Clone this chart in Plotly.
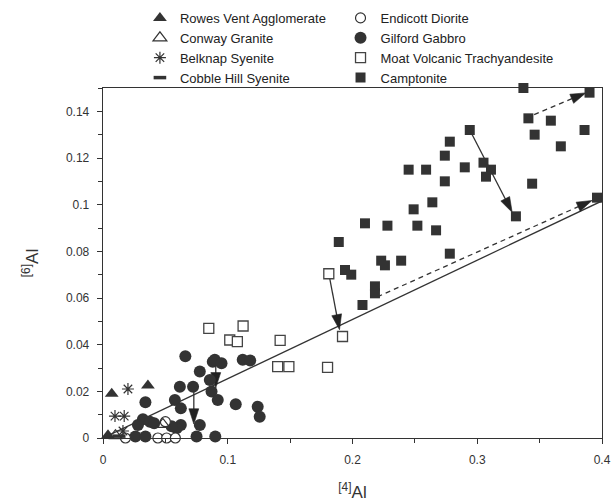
import plotly.graph_objects as go

FONT = "Liberation Sans, Arial, Helvetica, sans-serif"
INK = "#333333"

# ---------------- data ----------------
rowes_x = [0.007, 0.036, 0.004]
rowes_y = [0.019, 0.0225, 0.0012]

conway_x = [0.048, 0.010]
conway_y = [0.0058, 0.001]

belknap_x = [0.020, 0.0096, 0.017, 0.016]
belknap_y = [0.021, 0.0094, 0.0094, 0.003]

cobble_x = [0.013]
cobble_y = [0.0008]

endicott_x = [0.018, 0.044, 0.051, 0.058, 0.050]
endicott_y = [0.0, 0.0, 0.0, 0.0, 0.007]

gabbro_x = [0.066, 0.034, 0.0576, 0.0616, 0.0722, 0.0776, 0.0856, 0.088, 0.0896,
            0.095, 0.112, 0.118, 0.0624, 0.032, 0.0376, 0.041, 0.028, 0.0624,
            0.059, 0.0776, 0.075, 0.090, 0.026, 0.034, 0.087, 0.092, 0.1064,
            0.124, 0.1256, 0.055]
gabbro_y = [0.035, 0.0153, 0.0163, 0.022, 0.022, 0.0285, 0.0249, 0.0327, 0.0335,
            0.032, 0.0335, 0.0332, 0.0127, 0.008, 0.007, 0.0063, 0.0056, 0.0056,
            0.0042, 0.0056, 0.0006, 0.0006, 0.0006, 0.0006, 0.0199, 0.0163, 0.0145,
            0.0134, 0.0091, 0.005]

moat_x = [0.181, 0.192, 0.0848, 0.1123, 0.1016, 0.1077, 0.142, 0.140, 0.149, 0.180]
moat_y = [0.0704, 0.0435, 0.047, 0.048, 0.042, 0.0413, 0.0418, 0.0306, 0.0306, 0.0303]

camp_x = [0.337, 0.390, 0.341, 0.359, 0.346, 0.386, 0.367, 0.294, 0.305, 0.311,
          0.307, 0.344, 0.331, 0.396, 0.278, 0.274, 0.290, 0.245, 0.259, 0.274,
          0.264, 0.249, 0.210, 0.228, 0.252, 0.267, 0.189, 0.278, 0.223, 0.226,
          0.239, 0.194, 0.199, 0.218, 0.218, 0.208]
camp_y = [0.150, 0.148, 0.137, 0.136, 0.130, 0.132, 0.125, 0.132, 0.118, 0.115,
          0.112, 0.109, 0.095, 0.103, 0.127, 0.121, 0.116, 0.115, 0.115, 0.110,
          0.101, 0.098, 0.092, 0.091, 0.091, 0.089, 0.084, 0.079, 0.076, 0.074,
          0.076, 0.072, 0.070, 0.065, 0.062, 0.057]

# reference line through the origin
ref_x = [0.0, 0.4]
ref_y = [0.0, 0.1016]

# arrows: start -> tip
arrow_x0 = [0.181, 0.0728, 0.0904, 0.294, 0.3456, 0.220]
arrow_y0 = [0.0704, 0.0227, 0.0318, 0.132, 0.1386, 0.0605]
arrow_x1 = [0.1896, 0.0728, 0.0904, 0.328, 0.387, 0.392]
arrow_y1 = [0.0464, 0.0060, 0.0215, 0.0967, 0.1479, 0.1018]
arrow_dash = ["solid", "solid", "solid", "solid", "5px,4px", "5px,4px"]

# ---------------- figure ----------------
fig = go.Figure()

fig.add_trace(go.Scatter(x=ref_x, y=ref_y, mode="lines",
                         line=dict(color=INK, width=1.3),
                         showlegend=False, hoverinfo="skip", cliponaxis=False))

for x0, y0, x1, y1, d in zip(arrow_x0, arrow_y0, arrow_x1, arrow_y1, arrow_dash):
    fig.add_trace(go.Scatter(
        x=[x0, x1], y=[y0, y1], mode="lines+markers",
        line=dict(color=INK, width=1.3, dash=d),
        marker=dict(symbol=["circle", "arrow"], size=[0, 16], angleref="previous",
                    color="#222222", opacity=1, line=dict(width=0.6, color="#222222")),
        showlegend=False, hoverinfo="skip", cliponaxis=False))

series = [
    ("Camptonite", camp_x, camp_y,
     dict(symbol="square", size=10, color=INK, line=dict(width=0)), "legend2", 4),
    ("Moat Volcanic Trachyandesite", moat_x, moat_y,
     dict(symbol="square", size=10, color="white", line=dict(color="#444444", width=1.3)), "legend2", 3),
    ("Gilford Gabbro", gabbro_x, gabbro_y,
     dict(symbol="circle", size=12, color=INK, line=dict(width=0)), "legend2", 2),
    ("Endicott Diorite", endicott_x, endicott_y,
     dict(symbol="circle", size=10, color="white", line=dict(color=INK, width=1.2)), "legend2", 1),
    ("Rowes Vent Agglomerate", rowes_x, rowes_y,
     dict(symbol="triangle-up", size=12, color=INK, line=dict(width=0)), "legend", 1),
    ("Conway Granite", conway_x, conway_y,
     dict(symbol="triangle-up-open", size=12, color=INK, line=dict(color=INK, width=1.2)), "legend", 2),
    ("Belknap Syenite", belknap_x, belknap_y,
     dict(symbol="asterisk-open", size=10, color=INK, line=dict(color=INK, width=1.2)), "legend", 3),
    ("Cobble Hill Syenite", cobble_x, cobble_y,
     dict(symbol="line-ew-open", size=9, color=INK, line=dict(color=INK, width=3.5)), "legend", 4),
]

for name, xs, ys, mk, lg, rank in series:
    fig.add_trace(go.Scatter(x=xs, y=ys, mode="markers", name=name, marker=mk,
                             legend=lg, legendrank=rank, cliponaxis=False))

legend_common = dict(xanchor="left", yanchor="top", font=dict(size=13, family=FONT, color="#222222"),
                     bgcolor="rgba(0,0,0,0)", borderwidth=0, traceorder="normal")

fig.update_layout(
    width=614, height=503,
    margin=dict(l=103, r=12, t=88, b=65, autoexpand=False),
    paper_bgcolor="white", plot_bgcolor="white",
    font=dict(family=FONT, color=INK),
    hovermode=False,
    showlegend=True,
    legend=dict(x=0.074, y=1.243, **legend_common),
    legend2=dict(x=0.476, y=1.243, **legend_common),
    xaxis=dict(range=[0, 0.4], tick0=0, dtick=0.1, ticks="outside", ticklen=5,
               tickwidth=1, tickcolor=INK,
               minor=dict(dtick=0.05, ticks="outside", ticklen=4, tickcolor=INK),
               showline=True, linecolor=INK, linewidth=1.3, mirror=True,
               showgrid=False, zeroline=False, tickfont=dict(size=12, color=INK),
               ticklabelstandoff=5,
               title=dict(text="<sup>[4]</sup>Al", font=dict(size=17, color=INK), standoff=20)),
    yaxis=dict(range=[0, 0.15], tick0=0, dtick=0.02, ticks="outside", ticklen=5,
               tickwidth=1, tickcolor=INK,
               minor=dict(dtick=0.01, ticks="outside", ticklen=4, tickcolor=INK),
               showline=True, linecolor=INK, linewidth=1.3, mirror=True,
               showgrid=False, zeroline=False, tickfont=dict(size=12, color=INK),
               ticklabelstandoff=5,
               title=dict(text="<sup>[6]</sup>Al", font=dict(size=17, color=INK), standoff=23)),
)

fig.write_html("out.html",
               config={"displayModeBar": False, "staticPlot": True},
               post_script="document.body.style.margin='0';document.body.style.padding='0';")
